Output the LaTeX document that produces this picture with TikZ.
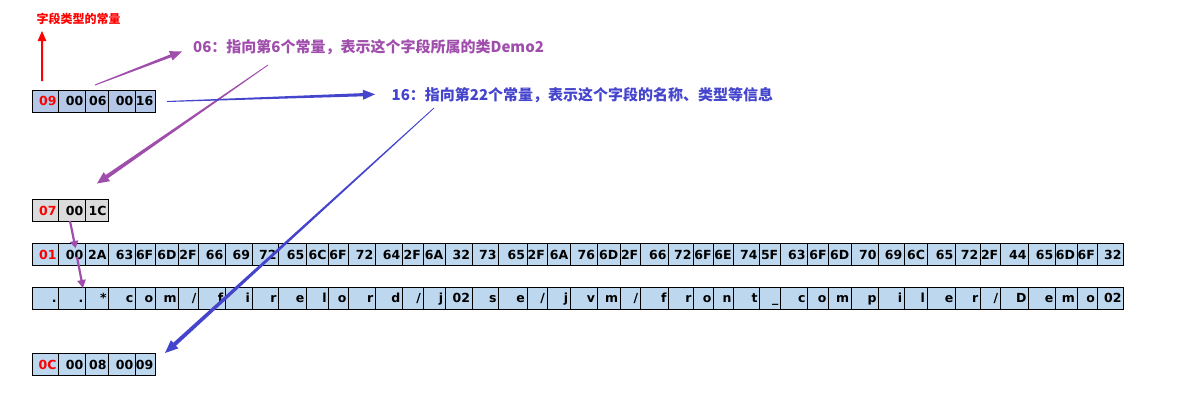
\documentclass[tikz,border=0pt]{standalone}
\usepackage{fontspec}
\setmainfont{DejaVu Sans}
\newfontfamily\cjk{Noto Sans CJK SC}
\usetikzlibrary{calc}
\definecolor{pur}{RGB}{160,78,172}
\definecolor{blu}{RGB}{68,68,205}
\definecolor{cblue}{RGB}{189,215,238}
\definecolor{cblue2}{RGB}{180,199,231}
\definecolor{cgray}{RGB}{219,219,219}
\definecolor{cred}{RGB}{255,0,0}
\tikzset{
  cell/.style={draw=black, line width=0.9pt, rectangle, anchor=north west,
    minimum height=22pt, inner xsep=0pt, inner ysep=0pt,
    font=\bfseries\fontsize{12.5}{12.5}\selectfont,
    text height=9pt, text depth=0pt},
  lbl/.style={anchor=west, inner sep=0pt},
}
% #1 name prefix, #2 top y, #3 fill, #4 colour of first text, #5 list x1/x2/text
\newcommand\cellrow[5]{%
  \foreach \a/\b/\t [count=\i] in {#5} {%
    \pgfmathsetmacro\w{\b-\a}%
    \pgfmathsetmacro\tw{\w-4.4}%
    \ifnum\i=1 \def\tc{#4}\else\def\tc{black}\fi
    \node[cell, fill=#3, minimum width=\w pt, text=\tc] (#1\i) at (\a,#2) {\makebox[\tw pt][r]{\t}};
  }%
}
% #1 from, #2 to, #3 colour, #4 half width at start, #5 half width at end,
% #6 head length, #7 head half width
\newcommand\taperarrow[7]{%
  \coordinate (tpb) at ($(#2)!#6!(#1)$);
  \fill[#3] ($(#1)!#4!90:(#2)$) -- ($(tpb)!#5!90:(#2)$) -- ($(tpb)!#7!90:(#2)$)
    -- (#2) -- ($(tpb)!#7!-90:(#2)$) -- ($(tpb)!#5!-90:(#2)$)
    -- ($(#1)!#4!-90:(#2)$) -- cycle;
}
\begin{document}
\begin{tikzpicture}[x=1pt,y=-1pt]
\useasboundingbox (0,0) rectangle (1183,416);
\fill[white] (0,0) rectangle (1183,416);

% rows of cells
\cellrow{ra}{89.5}{cblue2}{cred}{31.7/58.3/09, 58.3/85/00, 85/108.3/06, 108.3/135/00, 135/155/16}
\cellrow{rb}{199.3}{cgray}{cred}{31.7/58.3/07, 58.3/85/00, 85/108.3/1C}
\cellrow{rc}{243.3}{cblue}{cred}{31.7/58.3/01, 58.3/85/00, 85/108.3/2A, 108.3/135/63, 135/155/6F, 155/178.3/6D, 178.3/198.3/2F, 198.3/225/66, 225/251.7/69, 251.7/278.3/72, 278.3/306/65, 306/328.3/6C, 328.3/348.3/6F, 348.3/375/72, 375/402/64, 402/422.7/2F, 422.7/445/6A, 445/471.7/32, 471.7/498.3/73, 498.3/526.7/65, 526.7/546.7/2F, 546.7/570/6A, 570/596.7/76, 596.7/620/6D, 620/640/2F, 640/668.3/66, 668.3/693.3/72, 693.3/713.3/6F, 713.3/733.3/6E, 733.3/759.3/74, 759.3/780/5F, 780/807.3/63, 807.3/828.3/6F, 828.3/851/6D, 851/878.3/70, 878.3/904/69, 904/926.7/6C, 926.7/955/65, 955/980/72, 980/1000/2F, 1000/1028.3/44, 1028.3/1055/65, 1055/1076.7/6D, 1076.7/1096.7/6F, 1096.7/1123.3/32}
\cellrow{rd}{287}{cblue}{black}{31.7/58.3/., 58.3/85/., 85/108.3/*, 108.3/135/c, 135/155/o, 155/178.3/m, 178.3/198.3/\slash, 198.3/225/f, 225/251.7/i, 251.7/278.3/r, 278.3/306/e, 306/328.3/l, 328.3/348.3/o, 348.3/375/r, 375/402/d, 402/422.7/\slash, 422.7/445/j, 445/471.7/02, 471.7/498.3/s, 498.3/526.7/e, 526.7/546.7/\slash, 546.7/570/j, 570/596.7/v, 596.7/620/m, 620/640/\slash, 640/668.3/f, 668.3/693.3/r, 693.3/713.3/o, 713.3/733.3/n, 733.3/759.3/t, 759.3/780/\_, 780/807.3/c, 807.3/828.3/o, 828.3/851/m, 851/878.3/p, 878.3/904/i, 904/926.7/l, 926.7/955/e, 955/980/r, 980/1000/\slash, 1000/1028.3/D, 1028.3/1055/e, 1055/1076.7/m, 1076.7/1096.7/o, 1096.7/1123.3/02}
\cellrow{re}{353.3}{cblue}{cred}{31.7/58.3/0C, 58.3/85/00, 85/108.3/08, 108.3/135/00, 135/155/09}

% labels
\node[lbl, text=cred, font=\cjk\bfseries\fontsize{12}{12}\selectfont] (type) at (36.5,19) {字段类型的常量};
\node[lbl, text=pur, font=\cjk\bfseries\fontsize{15}{15}\selectfont] (note06) at (193,46.7) {06：指向第6个常量，表示这个字段所属的类Demo2};
\node[lbl, text=blu, font=\cjk\bfseries\fontsize{15}{15}\selectfont] (note16) at (391.5,95) {16：指向第22个常量，表示这个字段的名称、类型等信息};

% connector end points
\coordinate (a1s) at (42,81);     \coordinate (a1e) at (42,31);
\coordinate (a2s) at (95,85);     \coordinate (a2e) at (182,51.5);
\coordinate (a3s) at (268,65);    \coordinate (a3e) at (97,183.5);
\coordinate (a4s) at (167,101.5); \coordinate (a4e) at (375,94.3);
\coordinate (a5s) at (434,108);   \coordinate (a5e) at (165,353);
\coordinate (a6s) at (70,221);    \coordinate (a6e) at (75.5,248);
\coordinate (a7s) at (77,257);    \coordinate (a7e) at (83,288);

% connectors
\taperarrow{a1s}{a1e}{cred}{1pt}{1pt}{10pt}{4.4pt}
\taperarrow{a2s}{a2e}{pur}{0.5pt}{1.5pt}{12pt}{5pt}
\taperarrow{a3s}{a3e}{pur}{0.4pt}{2pt}{12pt}{5.5pt}
\taperarrow{a4s}{a4e}{blu}{0.5pt}{1.6pt}{12pt}{5pt}
\taperarrow{a5s}{a5e}{blu}{0.4pt}{2pt}{13pt}{5.5pt}
\taperarrow{a6s}{a6e}{pur}{1.1pt}{1.1pt}{7pt}{4.4pt}
\taperarrow{a7s}{a7e}{pur}{1.1pt}{1.1pt}{8pt}{4.4pt}
\end{tikzpicture}
\end{document}
